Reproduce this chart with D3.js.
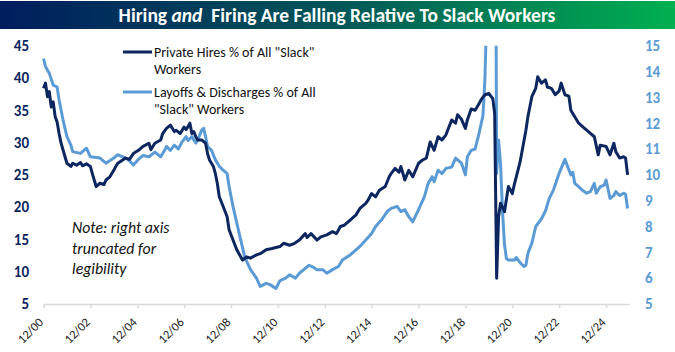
<!DOCTYPE html>
<html><head><meta charset="utf-8">
<script src="https://cdn.jsdelivr.net/npm/d3@7"></script>
<style>body{margin:0;background:#fff}svg{display:block}</style>
</head><body><svg id="c" width="675" height="352"></svg>
<script>
const hiresDates = ["2000-12","2001-01","2001-02","2001-03","2001-04","2001-05","2001-06","2001-07","2001-08","2001-09","2001-11","2001-12","2002-02","2002-03","2002-05","2002-07","2002-08","2002-10","2002-12","2003-01","2003-03","2003-05","2003-07","2003-08","2003-10","2003-12","2004-01","2004-02","2004-04","2004-06","2004-08","2004-10","2005-01","2005-03","2005-06","2005-07","2005-09","2005-12","2006-01","2006-03","2006-05","2006-07","2006-08","2006-10","2006-12","2007-01","2007-03","2007-04","2007-05","2007-06","2007-07","2007-09","2007-11","2007-12","2008-01","2008-03","2008-04","2008-05","2008-06","2008-08","2008-10","2008-11","2009-01","2009-03","2009-05","2009-06","2009-08","2009-10","2010-01","2010-03","2010-06","2010-09","2011-01","2011-03","2011-06","2011-08","2011-11","2012-02","2012-03","2012-05","2012-08","2012-10","2013-01","2013-04","2013-06","2013-08","2013-10","2014-01","2014-04","2014-06","2014-09","2014-10","2014-12","2015-02","2015-04","2015-07","2015-09","2015-10","2015-12","2016-02","2016-03","2016-05","2016-07","2016-09","2016-12","2017-02","2017-04","2017-06","2017-08","2017-10","2017-12","2018-02","2018-05","2018-07","2018-08","2018-10","2018-12","2019-01","2019-03","2019-05","2019-07","2019-08","2019-10","2019-12","2020-02","2020-03","2020-04","2020-05","2020-06","2020-08","2020-10","2020-12","2021-01","2021-04","2021-07","2021-08","2021-10","2021-12","2022-01","2022-03","2022-05","2022-06","2022-08","2022-10","2022-12","2023-01","2023-03","2023-05","2023-06","2023-08","2023-10","2024-01","2024-03","2024-06","2024-08","2024-09","2024-12","2025-02","2025-04","2025-05","2025-07","2025-09","2025-10","2025-11"];
const hiresValues = [38.4,39.2,37.1,37.9,35.5,36.3,34.0,33.2,31.4,29.9,27.8,26.8,26.3,26.8,26.5,26.9,26.4,26.7,26.3,25.2,23.2,23.7,23.5,24.2,24.7,25.7,26.3,26.8,27.2,27.6,27.4,28.3,28.9,29.4,29.9,28.9,29.9,30.4,31.4,32.2,32.7,31.7,31.9,31.4,32.4,32.0,33.0,31.4,31.7,30.9,30.4,30.4,29.9,28.3,27.3,26.3,25.2,23.7,21.6,20.1,18.5,16.5,14.9,13.4,12.3,11.8,12.3,12.1,12.6,12.8,13.4,13.6,13.9,14.4,14.1,14.3,14.9,15.9,15.3,15.9,14.9,15.4,15.7,16.2,15.9,17.0,17.2,18.0,18.8,19.8,20.6,21.0,22.1,21.6,22.6,23.2,24.7,25.2,26.0,25.4,26.3,24.2,25.7,24.7,26.8,27.3,27.6,30.1,28.8,30.9,30.4,31.2,33.5,33.0,34.3,33.6,32.2,33.5,35.2,35.0,36.0,36.6,37.4,37.6,36.8,34.5,9.0,18.5,20.6,19.3,23.2,22.1,23.5,27.0,31.9,34.0,37.1,38.4,40.2,39.2,39.7,38.6,38.4,37.4,38.0,39.2,37.4,37.2,35.0,34.0,33.0,32.2,31.7,30.9,28.1,29.6,29.4,28.1,29.9,28.6,27.6,27.8,27.6,25.0];
const layoffDates = ["2000-12","2001-01","2001-02","2001-03","2001-05","2001-07","2001-08","2001-10","2001-12","2002-02","2002-03","2002-07","2002-10","2002-12","2003-05","2003-08","2003-12","2004-02","2004-06","2004-08","2004-10","2005-01","2005-03","2005-06","2005-09","2005-12","2006-02","2006-03","2006-05","2006-07","2006-09","2006-11","2007-01","2007-02","2007-04","2007-06","2007-07","2007-09","2007-10","2007-11","2007-12","2008-02","2008-04","2008-06","2008-08","2008-10","2008-11","2009-01","2009-03","2009-05","2009-07","2009-10","2010-01","2010-03","2010-06","2010-08","2010-11","2011-01","2011-04","2011-06","2011-09","2011-11","2012-02","2012-04","2012-06","2012-08","2012-11","2013-01","2013-04","2013-07","2013-09","2014-01","2014-04","2014-06","2014-09","2014-12","2015-02","2015-05","2015-08","2015-10","2016-01","2016-03","2016-05","2016-07","2016-09","2016-11","2016-12","2017-03","2017-05","2017-07","2017-08","2017-10","2017-12","2018-02","2018-05","2018-07","2018-10","2018-12","2019-01","2019-03","2019-05","2019-07","2019-09","2019-10","2019-11","2019-12","2020-01","2020-02","2020-03","2020-04","2020-05","2020-06","2020-07","2020-08","2020-09","2020-10","2020-11","2021-01","2021-02","2021-04","2021-06","2021-07","2021-08","2021-10","2021-12","2022-03","2022-05","2022-07","2022-09","2022-12","2023-01","2023-03","2023-05","2023-06","2023-07","2023-08","2023-10","2023-12","2024-02","2024-04","2024-06","2024-07","2024-09","2024-11","2024-12","2025-02","2025-04","2025-05","2025-07","2025-09","2025-10","2025-11"];
const layoffValues = [14.5,14.2,14.05,13.93,13.48,13.4,12.9,12.13,11.48,11.15,10.9,10.83,11.03,10.7,10.65,10.45,10.65,10.78,10.65,10.55,10.38,10.63,10.75,10.7,10.88,10.7,10.95,11.1,10.95,11.15,11.0,11.28,11.48,11.33,11.48,11.23,11.35,11.73,11.8,11.48,11.1,10.95,10.58,10.33,10.18,10.05,9.55,8.78,8.13,7.48,6.83,6.33,6.0,5.68,5.8,5.75,5.6,5.9,6.0,6.13,6.0,6.19,6.38,6.5,6.43,6.33,6.33,6.19,6.33,6.45,6.7,6.9,7.1,7.23,7.48,7.73,8.0,8.25,8.58,8.7,8.78,8.58,8.65,8.38,8.18,8.5,8.65,9.15,9.68,9.93,9.73,10.18,10.05,10.25,10.3,10.65,10.45,10.0,10.7,10.95,11.0,11.6,12.3,13.7,16.5,19,22,26,30,10.05,11.35,10.4,8.6,7.3,6.75,6.7,6.7,6.7,6.8,6.6,6.45,6.5,6.96,7.35,8.0,8.3,8.6,9.1,9.4,10.06,10.25,10.6,10.2,10.0,10.1,9.67,9.54,9.4,9.29,9.35,9.67,9.29,9.54,9.6,9.8,9.09,9.2,9.35,9.2,9.29,9.25,8.7];
const leftTicks = [5,10,15,20,25,30,35,40,45];
const rightTicks = [5,6,7,8,9,10,11,12,13,14,15];
const xTickLabels = ["12/00","12/02","12/04","12/06","12/08","12/10","12/12","12/14","12/16","12/18","12/20","12/22","12/24"];
const seriesNames = ["Private Hires % of All \"Slack\"|Workers","Layoffs & Discharges % of All|\"Slack\" Workers"];
const titleParts = ["Hiring ","and","\u00a0 Firing Are Falling Relative To Slack Workers"];
const noteLines = ["Note: right axis","truncated for","legibility"];

const DARK = "#0c2660", LIGHT = "#5b9bd5";
const FONT = "Carlito, Lato, 'Open Sans', sans-serif";
const parse = d3.timeParse("%Y-%m");
const svg = d3.select("#c");

// title bar
const defs = svg.append("defs");
const g1 = defs.append("linearGradient").attr("id","tg");
g1.append("stop").attr("offset","0%").attr("stop-color","#001d5e");
g1.append("stop").attr("offset","50%").attr("stop-color","#005658");
g1.append("stop").attr("offset","100%").attr("stop-color","#00b050");
svg.append("rect").attr("x",0).attr("y",1).attr("width",675).attr("height",28).attr("fill","url(#tg)");
const tt = svg.append("text").attr("x",337).attr("y",21.5).attr("text-anchor","middle")
  .attr("fill","#fff").attr("font-family",FONT).attr("font-weight","bold").attr("font-size",19.5);
tt.append("tspan").text(titleParts[0]);
tt.append("tspan").attr("font-style","italic").text(titleParts[1]);
tt.append("tspan").text(titleParts[2]);

const x = d3.scaleTime().domain([parse("2000-12"), parse("2025-12")]).range([43.5, 629.5]);
const yL = d3.scaleLinear().domain([5,45]).range([304,45.7]);
const yR = d3.scaleLinear().domain([5,15]).range([304,45.7]);

// x axis
const tickDates = xTickLabels.map(s => parse("20"+s.slice(3)+"-12"));
const xAxis = d3.axisBottom(x).tickValues(tickDates).tickSize(4).tickSizeOuter(0).tickFormat((d,i)=>xTickLabels[i]);
const gx = svg.append("g").attr("transform","translate(0,304)").call(xAxis);
gx.select(".domain").attr("stroke","#d9d9d9").attr("stroke-width",1.5);
gx.selectAll(".tick line").attr("stroke","#d9d9d9").attr("stroke-width",1.5);
gx.selectAll(".tick text").attr("font-family",FONT).attr("font-size",12.5).attr("fill","#222")
  .attr("text-anchor","end").attr("dy",0).attr("y",0)
  .attr("transform","translate(0,19) rotate(-45)");

// left axis
const gl = svg.append("g").attr("transform","translate(29,0)")
  .call(d3.axisLeft(yL).tickValues(leftTicks).tickSize(0).tickPadding(0));
gl.select(".domain").remove();
gl.selectAll("text").attr("font-family",FONT).attr("font-size",15).attr("font-weight","bold").attr("fill",DARK);
// right axis
const gr = svg.append("g").attr("transform","translate(645,0)")
  .call(d3.axisRight(yR).tickValues(rightTicks).tickSize(0).tickPadding(0));
gr.select(".domain").remove();
gr.selectAll("text").attr("font-family",FONT).attr("font-size",15).attr("font-weight","bold").attr("fill",LIGHT);

// clip
defs.append("clipPath").attr("id","pc").append("rect")
  .attr("x",35).attr("y",yL(45)).attr("width",600).attr("height",yL(5)-yL(45)+5);

const plot = svg.append("g").attr("clip-path","url(#pc)");
const lineR = d3.line().x((d,i)=>x(parse(layoffDates[i]))).y(d=>yR(d));
const lineL = d3.line().x((d,i)=>x(parse(hiresDates[i]))).y(d=>yL(d));
plot.append("path").datum(layoffValues).attr("d",lineR).attr("fill","none")
  .attr("stroke",LIGHT).attr("stroke-width",3).attr("stroke-linejoin","round");
plot.append("path").datum(hiresValues).attr("d",lineL).attr("fill","none")
  .attr("stroke",DARK).attr("stroke-width",3).attr("stroke-linejoin","round");

// legend
const legY = [52, 92];
[DARK, LIGHT].forEach((c,i)=>{
  svg.append("line").attr("x1",123).attr("x2",152).attr("y1",legY[i]).attr("y2",legY[i])
    .attr("stroke",c).attr("stroke-width",3);
  const parts = seriesNames[i].split("|");
  parts.forEach((p,j)=>{
    svg.append("text").attr("x",154).attr("y",legY[i]+5+j*17).attr("font-family",FONT)
      .attr("font-size",14).attr("fill","#111").text(p);
  });
});

// note
noteLines.forEach((t,i)=>{
  svg.append("text").attr("x",72).attr("y",233+i*20.5).attr("font-family",FONT)
    .attr("font-size",15.8).attr("font-style","italic").attr("fill","#111").text(t);
});
</script></body></html>
